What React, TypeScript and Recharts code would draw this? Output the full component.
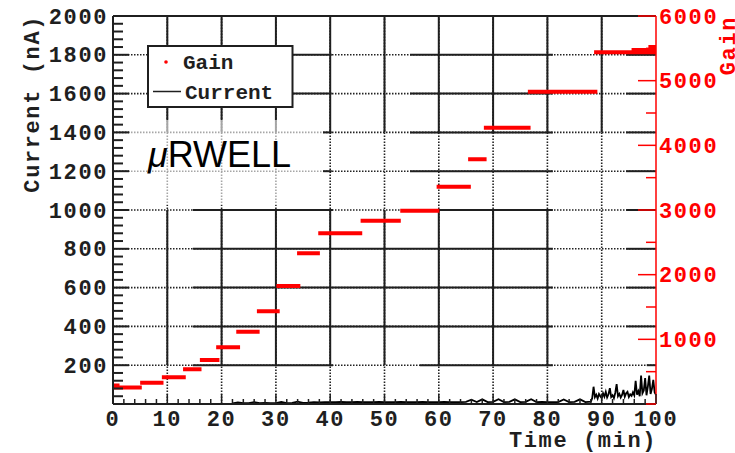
import React from 'react';
import { ComposedChart, Line, XAxis, YAxis, ReferenceLine } from 'recharts';

// Canvas and plot frame (pixels)
const W = 735;
const H = 453;
const PLOT = { left: 113, right: 656, top: 16, bottom: 404 };

const INK = '#1f1f1f';
const RED = '#ff0000';
const MONO = '"Liberation Mono", "DejaVu Sans Mono", monospace';
const SANS = '"Liberation Sans", Arial, sans-serif';

// Gain plateaus: start time (min), end time (min), gain
const GAIN_T0 = [0, 0, 5.0, 9.0, 12.9, 16.0, 19.0, 22.7, 26.5, 30.1, 33.9, 37.8, 45.6, 52.9, 59.6, 65.4, 68.3, 76.4, 88.6, 95.5, 98.6];
const GAIN_T1 = [1.2, 5.3, 9.3, 13.4, 16.3, 19.6, 23.4, 27.0, 30.7, 34.5, 38.1, 45.9, 53.0, 60.1, 65.9, 68.8, 76.9, 89.2, 100, 100, 100];
const GAIN_LEVEL = [285, 255, 330, 413, 536, 680, 876, 1118, 1433, 1824, 2330, 2639, 2834, 2989, 3360, 3783, 4273, 4830, 5438, 5475, 5520];

// Chamber current (nA) vs time (min)
const CURRENT_T = [
  22, 23, 24, 25, 26, 27, 28, 29, 30, 31, 32, 33, 34, 35, 36, 37, 38, 39, 40, 41, 42, 43,
  44, 45, 46, 47, 48, 49, 50, 51, 52, 53, 54, 55, 56, 57, 58, 59, 60, 61, 62, 63, 64, 65,
  66, 67, 68, 69, 70, 71, 72, 73, 74, 75, 76, 77, 78, 79, 80, 81, 82, 83, 84, 85, 86, 87,
  88, 88.25, 88.5, 88.75, 89, 89.25, 89.5, 89.75, 90, 90.25, 90.5, 90.75, 91, 91.25, 91.5, 91.75,
  92, 92.25, 92.5, 92.75, 93, 93.25, 93.5, 93.75, 94, 94.25, 94.5, 94.75, 95, 95.25, 95.5, 95.75,
  96, 96.25, 96.5, 96.75, 97, 97.25, 97.5, 97.75, 98, 98.25, 98.5, 98.75, 99, 99.25, 99.5, 99.75, 100,
];
const CURRENT_NA = [
  3, 8, 4, 5, 10, 4, 6, 5, 4, 11, 5, 6, 12, 6, 7, 10, 8, 9, 10, 9, 11, 10,
  9, 11, 10, 9, 10, 11, 10, 9, 10, 11, 10, 9, 10, 11, 10, 9, 10, 11, 10, 9, 10, 11,
  22, 10, 24, 10, 11, 25, 10, 11, 24, 10, 11, 25, 10, 11, 10, 9, 10, 23, 10, 11, 24, 10,
  12, 30, 89, 35, 48, 28, 52, 40, 30, 55, 38, 63, 34, 50, 82, 36,
  45, 30, 58, 103, 40, 52, 33, 47, 72, 38, 55, 63, 36, 50, 42, 60,
  45, 120, 48, 66, 40, 146, 55, 70, 134, 45, 90, 146, 52, 78, 124, 60, 48,
];

// Labelled axis values
const TIME_LABELS = [0, 10, 20, 30, 40, 50, 60, 70, 80, 90, 100];
const CURRENT_LABELS = [200, 400, 600, 800, 1000, 1200, 1400, 1600, 1800, 2000];
const GAIN_LABELS = [1000, 2000, 3000, 4000, 5000, 6000];

// Grid: where each gridline is drawn solid (otherwise dotted)
const H_GRID = [200, 400, 600, 800, 1000, 1200, 1400, 1600, 1800];
const H_SOLID: Record<number, [number, number][]> = {
  200: [[14.7, 40.5], [56.5, 81], [98.3, 100]],
  400: [[14.7, 81], [94.5, 100]],
  600: [[14.7, 81], [94.5, 100]],
  800: [[14.7, 81], [94.5, 100]],
  1000: [[14.7, 40.5], [54.7, 81], [94.5, 100]],
  1200: [[38.7, 40.3], [54.7, 81], [94.5, 100]],
  1400: [[38.7, 40.3], [54.7, 81], [94.5, 100]],
  1600: [[33, 40.3], [54.7, 81], [94.5, 100]],
  1800: [[33, 40.3], [54.7, 81], [94.5, 100]],
};
const V_GRID = [10, 20, 30, 40, 50, 60, 70, 80, 90];
const V_SOLID: Record<number, [number, number][]> = {
  10: [[1400, 2000], [200, 1000]],
  20: [[1400, 2000], [200, 1000]],
  30: [[1400, 2000], [200, 1000]],
  40: [[1400, 2000], [200, 1000]],
  50: [[1400, 2000], [200, 1000]],
  60: [[1400, 2000], [200, 1000]],
  70: [[1400, 2000], [200, 1000]],
  80: [[1400, 2000], [200, 1000]],
  90: [[1400, 2000]],
};

const minorTicks = (max: number, step: number) => {
  const out: number[] = [];
  for (let v = 0; v <= max + 1e-9; v += step) out.push(Math.round(v * 100) / 100);
  return out;
};

const gainPoints = GAIN_LEVEL.flatMap((g, i) => [
  { t: GAIN_T0[i], gain: g },
  { t: GAIN_T1[i], gain: g },
  { t: GAIN_T1[i], gain: null },
]);
const currentPoints = CURRENT_T.map((t, i) => ({ t, current: CURRENT_NA[i] }));

const labelStyle = { fontFamily: MONO, fontSize: 22, fontWeight: 700, letterSpacing: 1.6 } as const;

const CurrentTick = (props: any) => {
  const { y, payload } = props;
  const v = payload.value;
  const major = CURRENT_LABELS.includes(v);
  return (
    <g>
      <line x1={PLOT.left} x2={PLOT.left + (major ? 16 : 10)} y1={y} y2={y} stroke={INK} strokeWidth={2} />
      {major && (
        <text x={108} y={y} dy={7.5} textAnchor="end" fill={INK} style={labelStyle}>{v}</text>
      )}
    </g>
  );
};

const GainTick = (props: any) => {
  const { y, payload } = props;
  const v = payload.value;
  const major = GAIN_LABELS.includes(v);
  return (
    <g>
      <line x1={PLOT.right} x2={PLOT.right - (major ? 18 : 10)} y1={y} y2={y} stroke={RED} strokeWidth={1.5} />
      {major && (
        <text x={659} y={y} dy={7.5} textAnchor="start" fill={RED} style={labelStyle}>{v}</text>
      )}
    </g>
  );
};

const TimeTick = (props: any) => {
  const { x, payload } = props;
  const v = payload.value;
  const major = TIME_LABELS.includes(v);
  return (
    <g>
      <line x1={x} x2={x} y1={PLOT.bottom} y2={PLOT.bottom - (major ? 10 : 5)} stroke={INK} strokeWidth={1.5} />
      {major && (
        <text x={x} y={418} dy={7.5} textAnchor="middle" fill={INK} style={labelStyle}>{v}</text>
      )}
    </g>
  );
};

const dotted = { stroke: '#222', strokeWidth: 1.6, strokeDasharray: '1.5 1.5' };
const solid = { stroke: INK, strokeWidth: 2 };

export default function App() {
  return (
    <div style={{ position: 'absolute', left: 0, top: 0, width: W, height: H, background: '#fff' }}>
      <ComposedChart width={W} height={H} margin={{ top: PLOT.top, right: 0, bottom: 0, left: 0 }}>
        <XAxis
          xAxisId="t"
          dataKey="t"
          type="number"
          domain={[0, 100]}
          ticks={minorTicks(100, 2)}
          interval={0}
          height={H - PLOT.bottom}
          tickSize={0}
          tickLine={false}
          axisLine={{ stroke: INK, strokeWidth: 2 }}
          tick={<TimeTick />}
          allowDataOverflow
        />
        <YAxis
          yAxisId="cur"
          orientation="left"
          type="number"
          domain={[0, 2000]}
          ticks={minorTicks(2000, 40)}
          interval={0}
          width={PLOT.left}
          tickSize={0}
          tickLine={false}
          axisLine={{ stroke: INK, strokeWidth: 2 }}
          tick={<CurrentTick />}
          allowDataOverflow
        />
        <YAxis
          yAxisId="gain"
          orientation="right"
          type="number"
          domain={[0, 6000]}
          ticks={minorTicks(6000, 500)}
          interval={0}
          width={W - PLOT.right}
          tickSize={0}
          tickLine={false}
          axisLine={{ stroke: RED, strokeWidth: 1.5 }}
          tick={<GainTick />}
          allowDataOverflow
        />

        {/* dotted grid underneath */}
        {H_GRID.map((v) => (
          <ReferenceLine key={`hd${v}`} xAxisId="t" yAxisId="cur" y={v} {...dotted} />
        ))}
        {V_GRID.map((t) => (
          <ReferenceLine key={`vd${t}`} xAxisId="t" yAxisId="cur" x={t} {...dotted} />
        ))}
        {/* solid grid pieces on top */}
        {H_GRID.flatMap((v) =>
          H_SOLID[v].map(([a, b], j) => (
            <ReferenceLine key={`hs${v}-${j}`} xAxisId="t" yAxisId="cur" segment={[{ x: a, y: v }, { x: b, y: v }]} {...solid} />
          ))
        )}
        {V_GRID.flatMap((t) =>
          V_SOLID[t].map(([a, b], j) => (
            <ReferenceLine key={`vs${t}-${j}`} xAxisId="t" yAxisId="cur" segment={[{ x: t, y: a }, { x: t, y: b }]} {...solid} />
          ))
        )}
        {/* top frame */}
        <ReferenceLine xAxisId="t" yAxisId="cur" y={2000} stroke={INK} strokeWidth={2} />

        <Line
          xAxisId="t"
          yAxisId="cur"
          data={currentPoints}
          dataKey="current"
          type="linear"
          stroke="#000"
          strokeWidth={1.8}
          dot={false}
          isAnimationActive={false}
        />
        <Line
          xAxisId="t"
          yAxisId="gain"
          data={gainPoints}
          dataKey="gain"
          type="linear"
          stroke={RED}
          strokeWidth={4}
          strokeLinecap="butt"
          connectNulls={false}
          dot={false}
          isAnimationActive={false}
        />
      </ComposedChart>

      <svg width={W} height={H} style={{ position: 'absolute', left: 0, top: 0, pointerEvents: 'none' }}>
        {/* translucent label pad */}
        <rect x={130} y={120} width={193} height={85} fill="#fff" fillOpacity={0.6} />
        <text x={148} y={167} fontFamily={SANS} fontSize={36} fill="#000">
          <tspan fontStyle="italic">μ</tspan>RWELL
        </text>

        {/* legend */}
        <rect x={148} y={46} width={144.5} height={61} fill="#fff" stroke={INK} strokeWidth={2} />
        <circle cx={166} cy={62} r={1.8} fill={RED} />
        <text x={183} y={69} fill={INK} style={{ fontFamily: MONO, fontSize: 21, fontWeight: 700 }}>Gain</text>
        <line x1={153} x2={181} y1={91.5} y2={91.5} stroke={INK} strokeWidth={1.5} />
        <text x={185} y={98.5} fill={INK} style={{ fontFamily: MONO, fontSize: 21, fontWeight: 700 }}>Current</text>

        {/* axis titles */}
        <text x={657} y={447} textAnchor="end" fill={INK} style={labelStyle}>Time (min)</text>
        <text transform="translate(39 15) rotate(-90)" textAnchor="end" fill={INK} style={labelStyle}>Current (nA)</text>
        <text transform="translate(735 16) rotate(-90)" textAnchor="end" fill={RED} style={labelStyle}>Gain</text>
      </svg>
    </div>
  );
}
